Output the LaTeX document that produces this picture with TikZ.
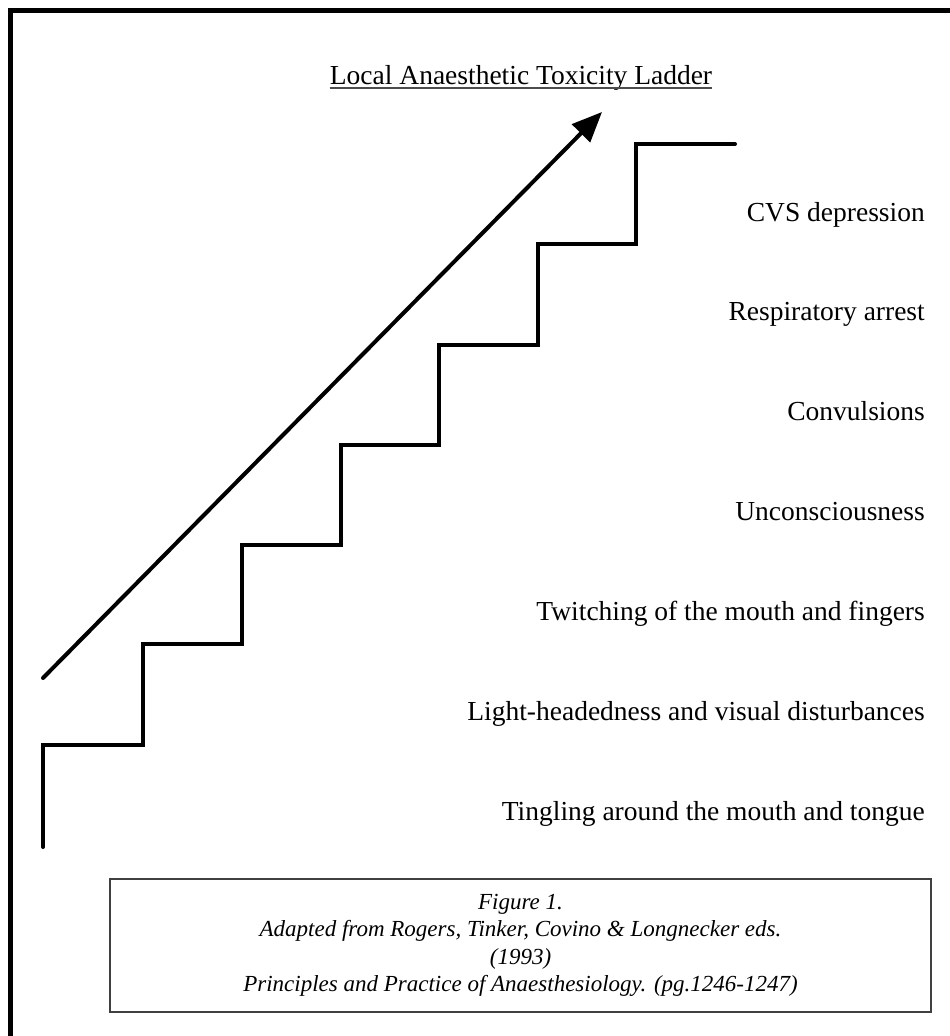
\documentclass[tikz,border=0pt]{standalone}
\usepackage{fontspec}
\setmainfont{Liberation Serif}
\usetikzlibrary{arrows.meta}
\begin{document}
\begin{tikzpicture}[x=1pt,y=-1pt,
  frameline/.style={line width=4.5pt, line join=miter},
  stair/.style={line width=4pt, line cap=round, line join=miter},
  rise/.style={line width=4pt, line cap=round, -{Triangle[length=30pt,width=25pt]}},
  lbl/.style={anchor=base east, inner sep=0pt, font=\fontsize{27.5}{33}\selectfont},
  ttl/.style={anchor=base, inner sep=0pt, font=\fontsize{27.5}{33}\selectfont},
  capbox/.style={draw=black!75, line width=1.5pt, minimum width=821pt, minimum height=133pt,
    align=center, inner sep=0pt, font=\fontsize{23}{27.5}\selectfont\itshape}
]
\useasboundingbox (0,0) rectangle (950,1036);
\fill[white] (0,0) rectangle (950,1036);
% outer frame (top and left)
\draw[frameline] (950,10.5) -- (10.5,10.5) -- (10.5,1036);
% title
\node[ttl] (title) at (521,84) {Local Anaesthetic Toxicity Ladder};
\draw[line width=1.5pt, black!70] ([yshift=-4pt]title.base west) -- ([yshift=-4pt]title.base east);
% arrow
\coordinate (arrS) at (43,678);
\coordinate (arrE) at (602,112);
\draw[rise] (arrS) -- (arrE);
% staircase
\draw[stair] (43,847) -- (43,745) -- (143,745) -- (143,644) -- (242,644) -- (242,545)
  -- (341,545) -- (341,445) -- (439,445) -- (439,345) -- (538,345) -- (538,244)
  -- (636,244) -- (636,144) -- (735,144);
% labels
\node[lbl] (l7) at (925,221) {CVS depression};
\node[lbl] (l6) at (925,320) {Respiratory arrest};
\node[lbl] (l5) at (925,420) {Convulsions};
\node[lbl] (l4) at (925,520) {Unconsciousness};
\node[lbl] (l3) at (925,620) {Twitching of the mouth and fingers};
\node[lbl] (l2) at (925,720) {Light-headedness and visual disturbances};
\node[lbl] (l1) at (925,820) {Tingling around the mouth and tongue};
% caption
\node[capbox] (cap) at (520.5,945.5) {Figure 1.\\Adapted from Rogers, Tinker, Covino \& Longnecker eds.\\(1993)\\Principles and Practice of Anaesthesiology. (pg.1246-1247)};
\end{tikzpicture}
\end{document}
